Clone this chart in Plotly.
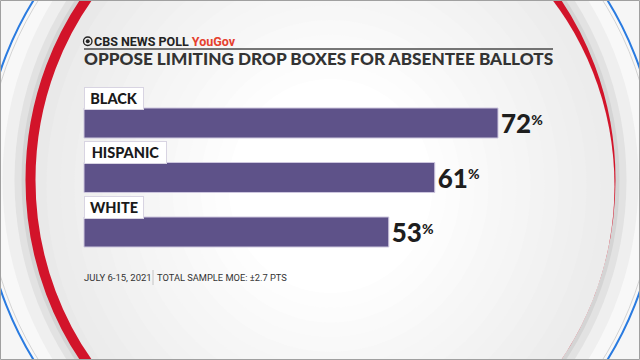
import plotly.graph_objects as go

# ---- data ----
groups = ["BLACK", "HISPANIC", "WHITE"]
values = [72, 61, 53]
title_text = "OPPOSE LIMITING DROP BOXES FOR ABSENTEE BALLOTS"
source_date = "JULY 6-15, 2021"
source_moe = "TOTAL SAMPLE MOE: ±2.7 PTS"

W, H = 640, 360
def px(x):
    return x / W
def py(y):
    return 1 - y / H

BAR_COLOR = "#5e5289"
HEAVY = "Lato"
LABEL_BOX_W = {"BLACK": 54, "HISPANIC": 77, "WHITE": 54}

fig = go.Figure()
fig.add_trace(go.Bar(
    x=values, y=groups, orientation="h", width=0.55,
    marker=dict(color=BAR_COLOR, line=dict(color="#cdc6de", width=1)),
    text=[f"{v}<span style='font-size:20px'><sup>%</sup></span>" for v in values],
    textposition="outside", constraintext="none", cliponaxis=False,
    textfont=dict(family=HEAVY, size=26, color="#1e1e1e", weight=900),
    hoverinfo="skip",
))

shapes = []
def ellipse(cx, cy, a, b, fill=None, line=None, lw=0):
    shapes.append(dict(type="circle", xref="paper", yref="paper", layer="below",
                       x0=px(cx - a), x1=px(cx + a), y0=py(cy + b), y1=py(cy - b),
                       fillcolor=fill if fill else "rgba(0,0,0,0)",
                       line=dict(color=line if line else "rgba(0,0,0,0)", width=lw)))

CX, CY = 320.5, 180
# outer blue ring and bands
ellipse(CX, CY, 338, 340, fill="#f8f8f8", line="#2a7be0", lw=2)
ellipse(CX, CY, 334, 336, fill=None, line="#d4d4d4", lw=1)
ellipse(CX, CY, 318, 333, fill="#efefef")
ellipse(CX, CY, 306, 322, fill="#e2e2e2")
ellipse(CX, CY, 299, 315, fill="#d4d4d4")
# red ring
ellipse(CX, CY, 290, 306, fill="#e9e9e9", line="#d2142a", lw=10)
# inner radial shading (smooth steps)
n = 14
for i in range(n):
    a = 284 - i * 14
    g = int(235 + (255 - 235) * (i + 1) / n)
    ellipse(CX + 10, CY + 6, a, a * 1.05, fill=f"rgb({g},{g},{g})")

# header rule line
shapes.append(dict(type="line", xref="paper", yref="paper", x0=px(84), x1=px(553),
                   y0=py(49), y1=py(49), line=dict(color="#4a4a4a", width=1.5)))
# CBS eye logo
shapes.append(dict(type="circle", xref="paper", yref="paper", x0=px(83.5), x1=px(92),
                   y0=py(45.5), y1=py(37), line=dict(color="#222", width=1.3)))
shapes.append(dict(type="circle", xref="paper", yref="paper", x0=px(85.8), x1=px(89.7),
                   y0=py(43.2), y1=py(39.3), fillcolor="#222", line=dict(width=0)))
# footer separator
shapes.append(dict(type="line", xref="paper", yref="paper", x0=px(153), x1=px(153),
                   y0=py(270), y1=py(285), line=dict(color="#c4c4c4", width=1)))
# frame
shapes.append(dict(type="rect", xref="paper", yref="paper", x0=px(0.5), x1=px(639.5),
                   y0=py(359.5), y1=py(0.5), line=dict(color="#a0a0a0", width=1)))

annotations = []
for g in groups:
    annotations.append(dict(
        x=0, y=g, xref="x", yref="y", xanchor="left", yanchor="middle", yshift=25,
        text=g, showarrow=False, bgcolor="white", bordercolor="#d8d4e2",
        borderwidth=1, borderpad=2, width=LABEL_BOX_W[g], align="center",
        font=dict(family=HEAVY, size=14.5, color="#1a1a1a", weight=900)))

annotations.append(dict(
    x=px(92), y=py(41.5), xref="paper", yref="paper", xanchor="left", yanchor="middle",
    text="CBS NEWS POLL <span style='color:#e5402d'>YouGov</span>", showarrow=False,
    font=dict(family="Roboto", size=12.5, color="#222", weight=700)))
annotations.append(dict(
    x=px(82), y=py(59), xref="paper", yref="paper", xanchor="left", yanchor="middle",
    text=title_text, showarrow=False,
    font=dict(family=HEAVY, size=17.2, color="#333333", weight=900)))
annotations.append(dict(
    x=px(82), y=py(277.5), xref="paper", yref="paper", xanchor="left", yanchor="middle",
    text=source_date, showarrow=False,
    font=dict(family="Roboto", size=9.5, color="#333")))
annotations.append(dict(
    x=px(155), y=py(277.5), xref="paper", yref="paper", xanchor="left", yanchor="middle",
    text=source_moe, showarrow=False,
    font=dict(family="Roboto", size=9.3, color="#333")))

x0 = -84 / 5.75
fig.update_layout(
    width=W, height=H, autosize=False,
    margin=dict(l=0, r=0, t=0, b=0),
    paper_bgcolor="#f6f6f6", plot_bgcolor="rgba(0,0,0,0)",
    showlegend=False,
    xaxis=dict(range=[x0, x0 + W / 5.75], visible=False, fixedrange=True),
    yaxis=dict(type="category", categoryorder="array", categoryarray=groups,
               range=[-123 / 54.5 + H / 54.5, -123 / 54.5], visible=False, fixedrange=True),
    shapes=shapes, annotations=annotations,
)

fig.write_html("out.html", config={"displayModeBar": False},
               post_script="document.body.style.margin='0px';")
